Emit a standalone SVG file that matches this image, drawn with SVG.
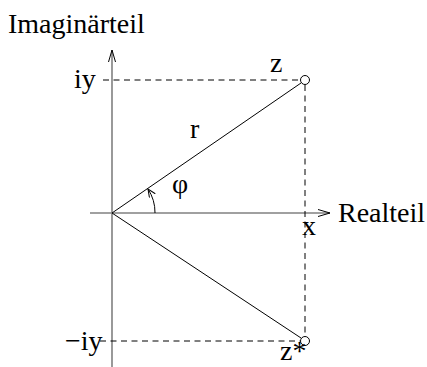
<svg xmlns="http://www.w3.org/2000/svg" width="427" height="367" viewBox="0 0 427 367">
<style>
text{font-family:'Liberation Serif','Times New Roman',serif;font-size:28px;fill:#000}
.axis{stroke:#808080;stroke-width:1.6;fill:none}
.dash{stroke:#000;stroke-width:1;stroke-dasharray:6,4.5;fill:none}
.line{stroke:#000;stroke-width:1;fill:none}
.pt{stroke:#000;stroke-width:1;fill:#fff}
</style>
<defs>
<marker id="ah" markerWidth="14" markerHeight="10" refX="13" refY="5" orient="auto" markerUnits="userSpaceOnUse">
<path d="M1,1.5 L13,5 L1,8.5" fill="none" stroke="#000" stroke-width="1"/>
</marker>
<marker id="sh" markerWidth="10" markerHeight="8" refX="8" refY="4" orient="auto" markerUnits="userSpaceOnUse">
<path d="M0,0.5 L8,4 L0,7.5" fill="none" stroke="#000" stroke-width="1"/>
</marker>
</defs>
<g id="connectors">
<line class="axis" x1="112" y1="367" x2="112" y2="50" marker-end="url(#ah)"/>
<line class="axis" x1="90" y1="213" x2="330" y2="213" marker-end="url(#ah)"/>
<line class="dash" x1="103" y1="80" x2="300" y2="80"/>
<line class="dash" x1="305" y1="85" x2="305" y2="336"/>
<line class="dash" x1="100" y1="341" x2="300" y2="341"/>
<line class="line" x1="112" y1="213" x2="301" y2="83"/>
<line class="line" x1="112" y1="213" x2="301" y2="338"/>
<path class="line" d="M155,213 A43,43 0 0 0 148,189" marker-end="url(#sh)"/>
</g>
<g id="z"><circle class="pt" cx="305" cy="80" r="4.5"/><text x="270" y="72">z</text></g>
<g id="zstar"><circle class="pt" cx="305" cy="341" r="4.5"/><text x="280" y="360">z*</text></g>
<g id="labels">
<text x="8" y="33">Imaginärteil</text>
<text x="74" y="88">iy</text>
<text x="65" y="350">−iy</text>
<text x="190" y="138">r</text>
<text x="172" y="193">φ</text>
<text x="338" y="222">Realteil</text>
<text x="302" y="235">x</text>
</g>
</svg>
